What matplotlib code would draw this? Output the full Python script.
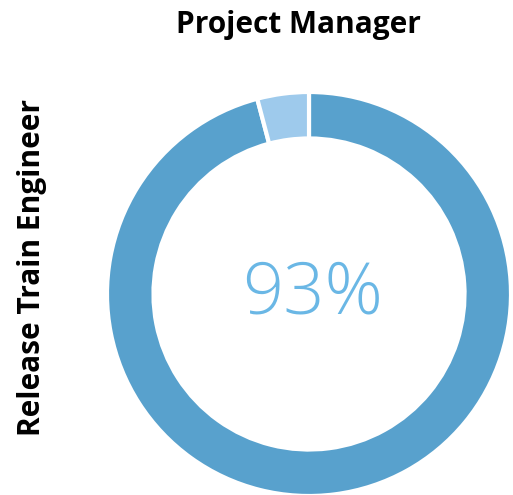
import matplotlib.pyplot as plt

# role share shown in the ring
labels = ['Release Train Engineer', 'Other']
values = [93, 4]
colors = ['#58a1cd', '#9ecaec']
title = 'Project Manager'
side_label = 'Release Train Engineer'
center_text = '93%'

plt.rcParams['font.family'] = ['Open Sans', 'DejaVu Sans']

fig = plt.figure(figsize=(5.13, 4.95), dpi=100)
ax = fig.add_axes([107 / 513, -1 / 495, 404 / 513, 404 / 495])

ax.pie(values, colors=colors, startangle=90, counterclock=False, radius=1,
       wedgeprops=dict(width=0.23, edgecolor='white', linewidth=3))
ax.set_xlim(-1, 1)
ax.set_ylim(-1, 1)
ax.axis('off')

ax.text(0.02, 0.0, center_text, ha='center', va='center', fontsize=52,
        color='#6ab7e5', fontweight='light')

fig.text(298 / 513, 1 - 25 / 495, title, ha='center', va='center',
         fontsize=21.5, fontweight='bold')
fig.text(32 / 513, 1 - 268 / 495, side_label, ha='center', va='center',
         rotation=90, fontsize=21.5, fontweight='bold')

fig.savefig('out.png', dpi=100)
